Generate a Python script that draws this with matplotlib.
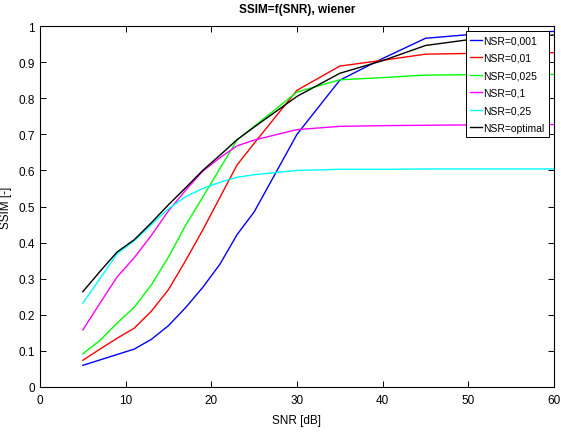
import numpy as np
import matplotlib
matplotlib.use("Agg")
import matplotlib.pyplot as plt

plt.rcParams['font.family'] = ['Liberation Sans', 'DejaVu Sans']

snr = [5, 7, 9, 11, 13, 15, 17, 19, 21, 23, 25, 30, 35, 40, 45, 50, 60]

ssim_0001 = [0.060, 0.075, 0.090, 0.105, 0.132, 0.170, 0.220, 0.276, 0.340, 0.422, 0.485,
             0.700, 0.850, 0.910, 0.966, 0.976, 0.985]
ssim_001 = [0.074, 0.105, 0.135, 0.163, 0.210, 0.270, 0.350, 0.435, 0.525, 0.615, 0.675,
            0.822, 0.889, 0.905, 0.922, 0.924, 0.926]
ssim_0025 = [0.092, 0.129, 0.177, 0.221, 0.283, 0.360, 0.448, 0.526, 0.605, 0.684, 0.722,
             0.817, 0.851, 0.857, 0.864, 0.865, 0.866]
ssim_01 = [0.158, 0.232, 0.305, 0.358, 0.420, 0.488, 0.545, 0.598, 0.635, 0.668, 0.684,
           0.713, 0.722, 0.724, 0.725, 0.726, 0.727]
ssim_025 = [0.232, 0.300, 0.369, 0.405, 0.450, 0.494, 0.527, 0.550, 0.567, 0.581, 0.588,
            0.600, 0.603, 0.603, 0.604, 0.604, 0.604]
ssim_opt = [0.264, 0.320, 0.374, 0.408, 0.455, 0.505, 0.552, 0.600, 0.642, 0.685, 0.720,
            0.805, 0.869, 0.904, 0.946, 0.962, 0.975]

series = [
    (ssim_0001, '#0000ff', 'NSR=0,001'),
    (ssim_001, '#ff0000', 'NSR=0,01'),
    (ssim_0025, '#00ff00', 'NSR=0,025'),
    (ssim_01, '#ff00ff', 'NSR=0,1'),
    (ssim_025, '#00ffff', 'NSR=0,25'),
    (ssim_opt, '#000000', 'NSR=optimal'),
]

fig = plt.figure(figsize=(5.61, 4.39), dpi=100)
# axes box in pixels: x 40..554, y 27..388
ax = fig.add_axes([40 / 561, 51 / 439, 514 / 561, 361 / 439])

for vals, col, lab in series:
    ax.plot(snr, vals, color=col, lw=1.0, label=lab)

ax.set_xlim(0, 60)
ax.set_ylim(0, 1)
ax.set_xticks(np.arange(0, 61, 10))
ax.set_yticks(np.arange(0, 1.01, 0.1))
ax.set_yticklabels(['0', '0.1', '0.2', '0.3', '0.4', '0.5', '0.6', '0.7', '0.8', '0.9', '1'])
ax.tick_params(direction='in', top=True, right=True, labelsize=8.5, length=4, width=0.7)
ax.tick_params(axis='x', pad=5)
for s in ax.spines.values():
    s.set_linewidth(0.8)

ax.set_xlabel('SNR [dB]', fontsize=8.5, labelpad=6)
ax.set_ylabel('SSIM [-]', fontsize=8.5, labelpad=5)
ax.set_title('SSIM=f(SNR), wiener', fontsize=8.5, fontweight='bold', pad=10)

leg = ax.legend(loc='upper right', fontsize=7.5, frameon=True, fancybox=False,
                handlelength=1.15, handletextpad=0.1, borderpad=0.4, labelspacing=0.72,
                borderaxespad=0.5)
leg.get_frame().set_edgecolor('black')
leg.get_frame().set_linewidth(0.7)
leg.get_frame().set_alpha(1)

fig.savefig('out.png', dpi=100)
